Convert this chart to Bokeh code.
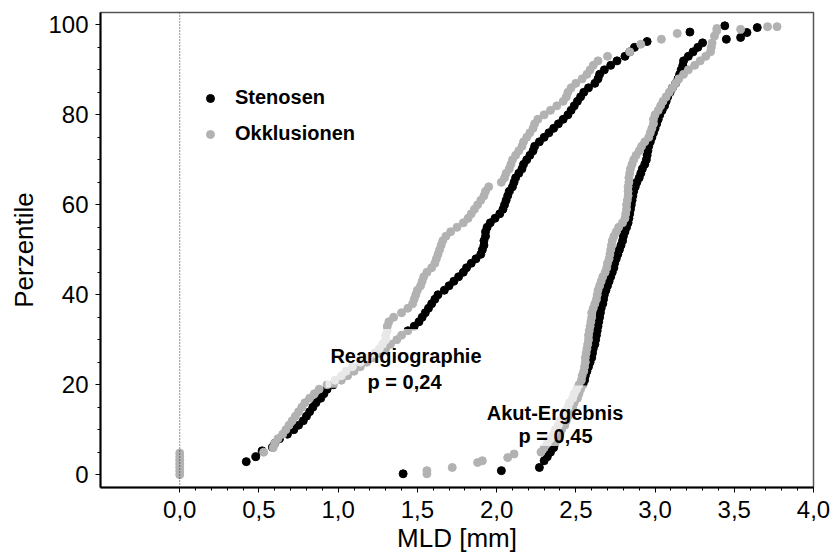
from bokeh.plotting import figure
from bokeh.models import (ColumnDataSource, FixedTicker, Span, BoxAnnotation, Label,
                          Legend, LegendItem)
from bokeh.embed import file_html
from bokeh.resources import INLINE

# ---------------- data ----------------
# (MLD [mm], percentile) pairs
stenosen_reangio = [
    (0.42, 2.9), (0.48, 4.0), (0.52, 5.3), (0.585, 6.1), (0.60, 7), (0.63, 8), (0.68, 9), (0.72, 10),
    (0.75, 11), (0.78, 12), (0.80, 13), (0.82, 14), (0.84, 15), (0.86, 16), (0.89, 17), (0.91, 18),
    (0.93, 19), (0.97, 20), (1.02, 21), (1.06, 22), (1.10, 23), (1.14, 24), (1.18, 25), (1.22, 26),
    (1.26, 27), (1.30, 28), (1.33, 29), (1.37, 30), (1.40, 31), (1.44, 32), (1.48, 33), (1.51, 34),
    (1.53, 35), (1.55, 36), (1.57, 37), (1.59, 38), (1.61, 39), (1.63, 40), (1.67, 41), (1.70, 42),
    (1.73, 43), (1.76, 44), (1.79, 45), (1.81, 46), (1.84, 47), (1.87, 48), (1.90, 49), (1.91, 50),
    (1.92, 51), (1.92, 52), (1.93, 53), (1.93, 54), (1.94, 55), (1.96, 56), (1.99, 57), (2.02, 58),
    (2.04, 59), (2.05, 60), (2.06, 61), (2.07, 62), (2.08, 63), (2.10, 64), (2.11, 65), (2.12, 66),
    (2.14, 67), (2.16, 68), (2.17, 69), (2.19, 70), (2.21, 71), (2.23, 72), (2.24, 73), (2.27, 74),
    (2.30, 75), (2.33, 76), (2.36, 77), (2.39, 78), (2.42, 79), (2.45, 80), (2.47, 81), (2.49, 82),
    (2.51, 83), (2.53, 84), (2.55, 85), (2.58, 86), (2.62, 87), (2.64, 88), (2.65, 89), (2.68, 90),
    (2.72, 91), (2.76, 92), (2.81, 93), (2.84, 94), (2.87, 95), (2.95, 96.3), (3.22, 98.4), (3.44, 99.8),
]

okklusionen_reangio = [
    (0.0, 0.0), (0.0, 0.8), (0.0, 1.6), (0.0, 2.4), (0.0, 3.2), (0.0, 4.0), (0.0, 4.8),
    (0.53, 5), (0.59, 6), (0.60, 7), (0.62, 8), (0.65, 9), (0.67, 10), (0.69, 11), (0.71, 12),
    (0.73, 13), (0.75, 14), (0.77, 15), (0.79, 16), (0.82, 17), (0.85, 18), (0.88, 19), (0.93, 20),
    (0.98, 21), (1.02, 22), (1.05, 23), (1.09, 24), (1.14, 25), (1.19, 26), (1.23, 27), (1.26, 28),
    (1.28, 29), (1.30, 30), (1.30, 31), (1.31, 32), (1.31, 33), (1.32, 34), (1.35, 35), (1.40, 36),
    (1.44, 37), (1.47, 38), (1.48, 39), (1.49, 40), (1.50, 41), (1.52, 42), (1.53, 43), (1.54, 44),
    (1.56, 45), (1.59, 46), (1.61, 47), (1.62, 48), (1.63, 49), (1.64, 50), (1.65, 51), (1.66, 52),
    (1.68, 53), (1.71, 54), (1.75, 55), (1.79, 56), (1.82, 57), (1.84, 58), (1.86, 59), (1.88, 60),
    (1.90, 61), (1.92, 62), (1.93, 63), (1.95, 64), (2.03, 65), (2.05, 66), (2.06, 67), (2.08, 68),
    (2.09, 69), (2.10, 70), (2.12, 71), (2.14, 72), (2.16, 73), (2.17, 74), (2.19, 75), (2.21, 76),
    (2.23, 77), (2.24, 78), (2.26, 79), (2.30, 80), (2.34, 81), (2.38, 82), (2.42, 83), (2.44, 84),
    (2.45, 85), (2.47, 86), (2.50, 87), (2.54, 88), (2.57, 89), (2.59, 90), (2.61, 91), (2.64, 92),
    (2.70, 93), (2.84, 94), (2.91, 95.7), (3.04, 96.8), (3.14, 98.1), (3.39, 99.2),
]

stenosen_akut = [
    (1.41, 0.2), (2.03, 0.9), (2.27, 1.6), (2.30, 3.1), (2.32, 4), (2.34, 5), (2.36, 6), (2.37, 7),
    (2.39, 8), (2.40, 9), (2.41, 10), (2.43, 11), (2.44, 12), (2.45, 13), (2.47, 14), (2.48, 15),
    (2.49, 16), (2.51, 17), (2.52, 18), (2.53, 19), (2.545, 20), (2.555, 21), (2.56, 22), (2.57, 23),
    (2.58, 24), (2.59, 25), (2.60, 26), (2.605, 27), (2.61, 28), (2.62, 29), (2.625, 30), (2.63, 31),
    (2.635, 32), (2.64, 33), (2.645, 34), (2.65, 35), (2.655, 36), (2.66, 37), (2.67, 38), (2.675, 39),
    (2.68, 40), (2.69, 41), (2.70, 42), (2.71, 43), (2.72, 44), (2.73, 45), (2.74, 46), (2.745, 47),
    (2.755, 48), (2.765, 49), (2.775, 50), (2.785, 51), (2.795, 52), (2.80, 53), (2.81, 54), (2.82, 55),
    (2.83, 56), (2.835, 57), (2.84, 58), (2.845, 59), (2.85, 60), (2.855, 61), (2.86, 62), (2.865, 63),
    (2.875, 64), (2.885, 65), (2.90, 66), (2.91, 67), (2.92, 68), (2.935, 69), (2.945, 70), (2.95, 71),
    (2.955, 72), (2.96, 73), (2.97, 74), (2.98, 75), (2.99, 76), (3.00, 77), (3.01, 78), (3.02, 79),
    (3.03, 80), (3.045, 81), (3.06, 82), (3.07, 83), (3.08, 84), (3.095, 85), (3.11, 86), (3.13, 87),
    (3.145, 88), (3.155, 89), (3.165, 90), (3.175, 91), (3.18, 92), (3.21, 93), (3.24, 94), (3.27, 95),
    (3.30, 96), (3.45, 96.8), (3.54, 97.2), (3.58, 98.3), (3.645, 99.4),
]

okklusionen_akut = [
    (1.56, 0.2), (1.56, 0.9), (1.72, 1.6), (1.88, 2.7), (1.91, 3.1), (2.07, 3.8), (2.11, 4.6),
    (2.28, 5.0), (2.30, 6), (2.32, 7), (2.34, 8), (2.36, 9), (2.37, 10), (2.39, 11), (2.40, 12),
    (2.42, 13), (2.43, 14), (2.45, 15), (2.46, 16), (2.48, 17), (2.49, 18), (2.505, 19), (2.52, 20),
    (2.535, 21), (2.54, 22), (2.55, 23), (2.555, 24), (2.56, 25), (2.56, 26), (2.565, 27), (2.57, 28),
    (2.575, 29), (2.58, 30), (2.58, 31), (2.585, 32), (2.59, 33), (2.595, 34), (2.60, 35), (2.60, 36),
    (2.61, 37), (2.62, 38), (2.63, 39), (2.635, 40), (2.64, 41), (2.65, 42), (2.66, 43), (2.67, 44),
    (2.685, 45), (2.695, 46), (2.70, 47), (2.71, 48), (2.715, 49), (2.72, 50), (2.725, 51), (2.73, 52),
    (2.74, 53), (2.755, 54), (2.77, 55), (2.795, 56), (2.81, 57), (2.815, 58), (2.82, 59), (2.82, 60),
    (2.825, 61), (2.83, 62), (2.83, 63), (2.83, 64), (2.835, 65), (2.835, 66), (2.84, 67), (2.845, 68),
    (2.855, 69), (2.865, 70), (2.88, 71), (2.90, 72), (2.915, 73), (2.935, 74), (2.96, 75), (2.97, 76),
    (2.98, 77), (2.99, 78), (2.99, 79), (3.00, 80), (3.02, 81), (3.035, 82), (3.05, 83), (3.07, 84),
    (3.09, 85), (3.11, 86), (3.13, 87), (3.15, 88), (3.18, 89), (3.21, 90), (3.25, 91), (3.285, 92),
    (3.32, 93), (3.35, 94), (3.355, 95), (3.36, 96), (3.375, 97.5), (3.39, 98.7), (3.54, 99.0),
    (3.71, 99.6), (3.77, 99.6),
]

legend_labels = ["Stenosen", "Okklusionen"]
annotation_texts = [("Reangiographie", "p = 0,24"), ("Akut-Ergebnis", "p = 0,45")]

x_ticks = [0.0, 0.5, 1.0, 1.5, 2.0, 2.5, 3.0, 3.5, 4.0]
x_tick_labels = ["0,0", "0,5", "1,0", "1,5", "2,0", "2,5", "3,0", "3,5", "4,0"]
y_ticks = [0, 20, 40, 60, 80, 100]
y_tick_labels = ["0", "20", "40", "60", "80", "100"]

BLACK = "#000000"
GRAY = "#b2b2b2"
FONT = "Liberation Sans"


def src(pairs):
    return ColumnDataSource(dict(x=[a for a, b in pairs], y=[b for a, b in pairs]))


p = figure(width=834, height=559, x_range=(-0.5, 4.0), y_range=(-2.85, 102.75),
           output_backend="svg", toolbar_location=None,
           min_border_left=100, min_border_right=21, min_border_top=12, min_border_bottom=72)
p.background_fill_color = "white"
p.border_fill_color = "white"
p.xgrid.grid_line_color = None
p.ygrid.grid_line_color = None
p.outline_line_color = "#555555"
p.outline_line_width = 1.5

# dotted reference line at 0
p.add_layout(Span(location=0, dimension="height", line_color="#222222",
                  line_width=1, line_dash="1 2"))

DOT = 8
r_br = p.scatter("x", "y", source=src(stenosen_reangio), size=DOT, color=BLACK)
r_ba = p.scatter("x", "y", source=src(stenosen_akut), size=DOT, color=BLACK)
r_gr = p.scatter("x", "y", source=src(okklusionen_reangio), size=DOT, color=GRAY)
r_ga = p.scatter("x", "y", source=src(okklusionen_akut), size=DOT, color=GRAY)

# semi-transparent label boxes
p.add_layout(BoxAnnotation(left=0.92, right=1.93, bottom=19.3, top=32.4,
                           fill_color="white", fill_alpha=0.7, line_alpha=0))
p.add_layout(BoxAnnotation(left=1.91, right=2.84, bottom=6.4, top=19.8,
                           fill_color="white", fill_alpha=0.7, line_alpha=0))

label_pos = [((1.428, 26.4), (1.419, 20.5)), ((2.369, 13.8), (2.372, 8.5))]
for (t1, t2), ((x1, y1), (x2, y2)) in zip(annotation_texts, label_pos):
    for t, xx, yy in ((t1, x1, y1), (t2, x2, y2)):
        p.add_layout(Label(x=xx, y=yy, text=t, text_align="center", text_baseline="alphabetic",
                           text_font=FONT, text_font_size="20px", text_font_style="bold",
                           text_color="black"))

legend = Legend(items=[LegendItem(label=legend_labels[0], renderers=[r_br]),
                       LegendItem(label=legend_labels[1], renderers=[r_gr])],
                location=(100, 342), orientation="vertical",
                label_text_font=FONT, label_text_font_size="20px", label_text_font_style="bold",
                label_text_color="black",
                glyph_width=20, glyph_height=20, label_standoff=15, spacing=13,
                padding=0, margin=0, border_line_alpha=0, background_fill_alpha=0)
p.add_layout(legend)

# axes
for ax in (p.xaxis[0], p.yaxis[0]):
    ax.axis_line_width = 2
    ax.axis_line_color = "black"
    ax.major_tick_line_color = "black"
    ax.minor_tick_line_color = "black"
    ax.major_tick_out = 5
    ax.major_tick_in = 0
    ax.minor_tick_out = 3
    ax.minor_tick_in = 0
    ax.major_label_text_font = FONT
    ax.major_label_text_font_size = "24px"
    ax.major_label_text_color = "black"
    ax.axis_label_text_font = FONT
    ax.axis_label_text_font_size = "26px"
    ax.axis_label_text_font_style = "normal"
    ax.axis_label_text_color = "black"

p.xaxis.ticker = FixedTicker(ticks=x_ticks, minor_ticks=[i / 10 for i in range(1, 40)])
p.xaxis.major_label_overrides = dict(zip(x_ticks, x_tick_labels))
p.yaxis.ticker = FixedTicker(ticks=y_ticks, minor_ticks=[i * 5 for i in range(1, 20)])
p.yaxis.major_label_overrides = dict(zip(y_ticks, y_tick_labels))
p.xaxis.axis_label = "MLD [mm]"
p.yaxis.axis_label = "Perzentile"
p.xaxis.major_label_standoff = 8
p.xaxis.axis_label_standoff = 2
p.yaxis.major_label_standoff = 7
p.yaxis.axis_label_standoff = 6

open("out.html", "w").write(file_html(p, INLINE))
